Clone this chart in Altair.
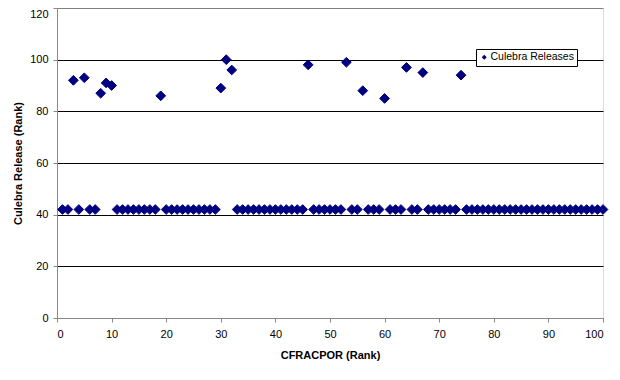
import altair as alt
import pandas as pd

rank_x = [
    1, 2, 3, 4, 5, 6, 7, 8, 9, 10,
    11, 12, 13, 14, 15, 16, 17, 18, 19, 20,
    21, 22, 23, 24, 25, 26, 27, 28, 29, 30,
    31, 32, 33, 34, 35, 36, 37, 38, 39, 40,
    41, 42, 43, 44, 45, 46, 47, 48, 49, 50,
    51, 52, 53, 54, 55, 56, 57, 58, 59, 60,
    61, 62, 63, 64, 65, 66, 67, 68, 69, 70,
    71, 72, 73, 74, 75, 76, 77, 78, 79, 80,
    81, 82, 83, 84, 85, 86, 87, 88, 89, 90,
    91, 92, 93, 94, 95, 96, 97, 98, 99, 100,
]
release_y = [
    42, 42, 92, 42, 93, 42, 42, 87, 91, 90,
    42, 42, 42, 42, 42, 42, 42, 42, 86, 42,
    42, 42, 42, 42, 42, 42, 42, 42, 42, 89,
    100, 96, 42, 42, 42, 42, 42, 42, 42, 42,
    42, 42, 42, 42, 42, 98, 42, 42, 42, 42,
    42, 42, 99, 42, 42, 88, 42, 42, 42, 85,
    42, 42, 42, 97, 42, 42, 95, 42, 42, 42,
    42, 42, 42, 94, 42, 42, 42, 42, 42, 42,
    42, 42, 42, 42, 42, 42, 42, 42, 42, 42,
    42, 42, 42, 42, 42, 42, 42, 42, 42, 42,
]
series_name = "Culebra Releases"
x_ticks = [0, 10, 20, 30, 40, 50, 60, 70, 80, 90, 100]
y_ticks = [0, 20, 40, 60, 80, 100, 120]

df = pd.DataFrame({"x": rank_x, "y": release_y, "series": [series_name] * len(rank_x)})

FONT = "Liberation Sans"
NAVY = "#000080"

chart = alt.Chart(df).mark_point(
    shape="diamond", filled=True, size=95, stroke=NAVY, strokeWidth=1, opacity=1
).encode(
    x=alt.X(
        "x:Q",
        scale=alt.Scale(domain=[0, 100], nice=False, zero=False),
        axis=alt.Axis(
            values=x_ticks, grid=False, title="CFRACPOR (Rank)",
            tickSize=4, labelPadding=6, labelFontSize=11,
            titleX=273, titleY=37, titleBaseline="middle", titleAlign="center",
        ),
    ),
    y=alt.Y(
        "y:Q",
        scale=alt.Scale(domain=[0, 120], nice=False),
        axis=alt.Axis(
            values=y_ticks, grid=True, title="Culebra Release (Rank)",
            gridColor={"condition": {"test": "datum.value === 120", "value": "#808080"}, "value": "#000000"},
            labelBaseline={"condition": {"test": "datum.value === 120", "value": "top"}, "value": "middle"},
            tickSize=4, labelPadding=5, labelFontSize=11,
            titleX=-39, titleY=155, titleAngle=270, titleBaseline="middle", titleAlign="center",
        ),
    ),
    color=alt.Color(
        "series:N",
        scale=alt.Scale(range=[NAVY]),
        legend=alt.Legend(
            title=None, orient="none", legendX=419, legendY=41,
            fillColor="white", strokeColor="black", padding=3,
            symbolType="diamond", symbolSize=25, symbolStrokeWidth=0,
            labelFontSize=10.5, labelFont=FONT, labelOffset=1, labelColor="black",
        ),
    ),
).properties(
    width=546, height=310,
    autosize=alt.AutoSizeParams(type="none"),
    padding={"left": 49, "top": 0, "right": 9, "bottom": 54},
).configure_view(
    stroke="#808080", strokeWidth=1
).configure_axis(
    domainColor="black", tickColor="black", labelColor="black", titleColor="black",
    labelFont=FONT, titleFont=FONT, titleFontSize=11, titleFontWeight="bold",
    gridWidth=1, domainWidth=1,
).configure(background="white")

chart.save("out.html", embed_options={"renderer": "svg", "actions": False})
